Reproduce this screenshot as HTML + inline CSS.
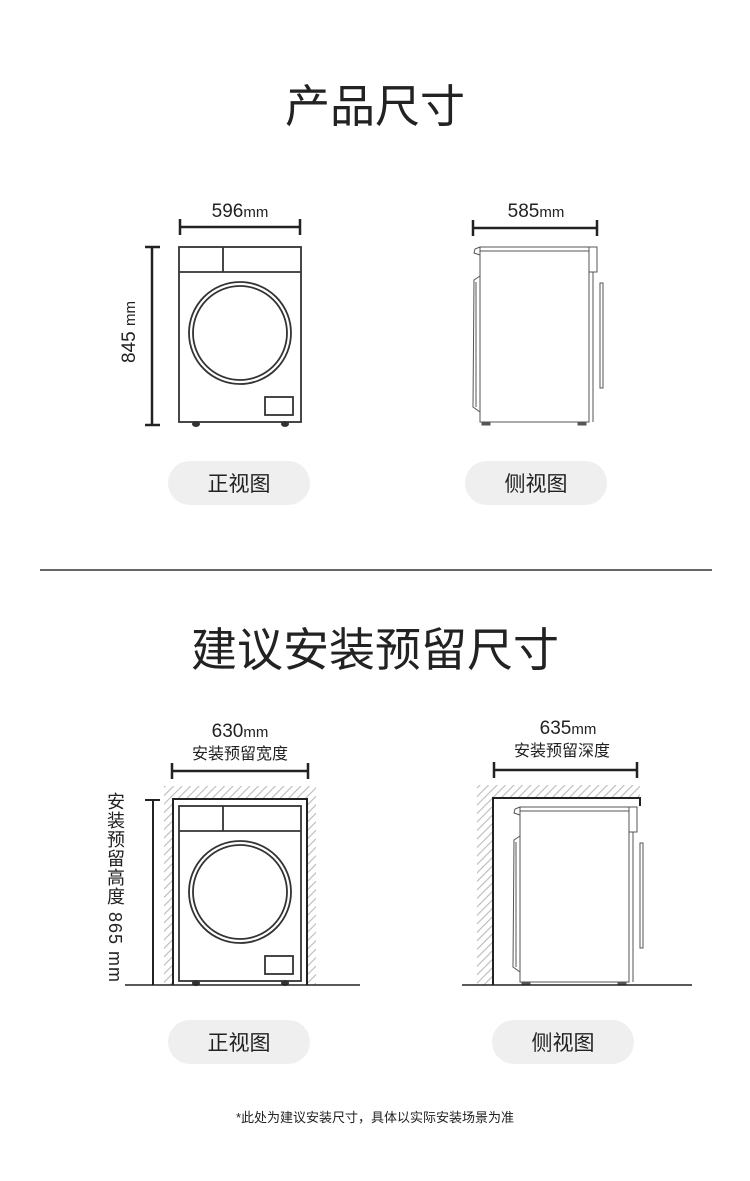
<!DOCTYPE html>
<html><head><meta charset="utf-8"><style>
html,body{margin:0;padding:0;background:#fff;}
body{width:750px;height:1176px;overflow:hidden;}
svg text{font-family:"Liberation Sans","Noto Sans CJK SC",sans-serif;fill:#222;}
</style></head><body>
<svg width="750" height="1176" viewBox="0 0 750 1176" xmlns="http://www.w3.org/2000/svg">
<defs>
<pattern id="h" width="6" height="6" patternUnits="userSpaceOnUse" patternTransform="rotate(45)">
<rect width="6" height="6" fill="#fff"/><line x1="0" y1="0" x2="0" y2="6" stroke="#bbb" stroke-width="2.2"/>
</pattern>
<g id="front">
<rect x="179" y="0" width="122" height="175" fill="#fff" stroke="#333" stroke-width="1.8"/>
<line x1="179" y1="25" x2="301" y2="25" stroke="#333" stroke-width="1.8"/>
<line x1="223" y1="0" x2="223" y2="25" stroke="#333" stroke-width="1.8"/>
<circle cx="240" cy="86" r="51" fill="none" stroke="#333" stroke-width="1.8"/>
<circle cx="240" cy="86" r="47" fill="none" stroke="#333" stroke-width="1.8"/>
<rect x="265" y="150" width="28" height="18" fill="none" stroke="#333" stroke-width="1.8"/>
<ellipse cx="196" cy="177" rx="4" ry="3" fill="#333"/>
<ellipse cx="285" cy="177" rx="4" ry="3" fill="#333"/>
</g>
<g id="side" fill="none" stroke="#555" stroke-width="1">
<rect x="480" y="0" width="109" height="175" fill="#fff"/>
<line x1="480" y1="4" x2="589" y2="4"/>
<path d="M480 0 L475 2 L474 6 L480 8"/>
<rect x="589" y="0" width="8" height="25"/>
<line x1="589" y1="25" x2="589" y2="175"/>
<line x1="593" y1="25" x2="593" y2="175"/>
<rect x="600" y="36" width="3" height="105"/>
<path d="M480 29 L474 33 L473 160 L480 165"/>
<line x1="476" y1="35" x2="476" y2="160"/>
<rect x="482" y="175" width="8" height="3" fill="#555"/>
<rect x="578" y="175" width="8" height="3" fill="#555"/>
</g>
</defs>

<text x="375" y="122" font-size="45" text-anchor="middle">产品尺寸</text>

<text x="240" y="217" font-size="19" text-anchor="middle">596<tspan font-size="15">mm</tspan></text>
<g stroke="#222" stroke-width="2.5"><line x1="180" y1="227" x2="300" y2="227"/><line x1="180" y1="219" x2="180" y2="235"/><line x1="300" y1="219" x2="300" y2="235"/>
<line x1="152" y1="247" x2="152" y2="425"/><line x1="145" y1="247" x2="160" y2="247"/><line x1="145" y1="425" x2="160" y2="425"/></g>
<text transform="translate(135,332) rotate(-90)" font-size="19" text-anchor="middle">845 <tspan font-size="15">mm</tspan></text>
<use href="#front" y="247"/>

<text x="536" y="217" font-size="19" text-anchor="middle">585<tspan font-size="15">mm</tspan></text>
<g stroke="#222" stroke-width="2.5"><line x1="473" y1="228" x2="597" y2="228"/><line x1="473" y1="220" x2="473" y2="236"/><line x1="597" y1="220" x2="597" y2="236"/></g>
<use href="#side" y="247"/>

<rect x="168" y="461" width="142" height="44" rx="22" fill="#efefef"/>
<text x="239" y="491" font-size="21" text-anchor="middle">正视图</text>
<rect x="465" y="461" width="142" height="44" rx="22" fill="#efefef"/>
<text x="536" y="491" font-size="21" text-anchor="middle">侧视图</text>

<line x1="40" y1="570" x2="712" y2="570" stroke="#333" stroke-width="1.5"/>

<text x="375" y="666" font-size="46" text-anchor="middle">建议安装预留尺寸</text>

<text x="240" y="737" font-size="19" text-anchor="middle">630<tspan font-size="15">mm</tspan></text>
<text x="240" y="759" font-size="16" text-anchor="middle">安装预留宽度</text>
<g stroke="#222" stroke-width="2.5"><line x1="172" y1="771" x2="308" y2="771"/><line x1="172" y1="763" x2="172" y2="779"/><line x1="308" y1="763" x2="308" y2="779"/></g>
<rect x="164" y="786" width="152" height="199" fill="url(#h)"/>
<rect x="173" y="799" width="134" height="186" fill="#fff"/>
<path d="M173 985 L173 799 L307 799 L307 985" fill="none" stroke="#222" stroke-width="2"/>
<use href="#front" y="806"/>
<g stroke="#222" stroke-width="2"><line x1="153" y1="800" x2="153" y2="985"/><line x1="145" y1="800" x2="160" y2="800"/></g>
<text x="115" y="792" font-size="18" style="writing-mode:vertical-rl;letter-spacing:1px" text-anchor="start">安装预留高度 865 mm</text>
<line x1="125" y1="985" x2="360" y2="985" stroke="#222" stroke-width="1.5"/>

<text x="568" y="734" font-size="19" text-anchor="middle">635<tspan font-size="15">mm</tspan></text>
<text x="562" y="756" font-size="16" text-anchor="middle">安装预留深度</text>
<g stroke="#222" stroke-width="2.5"><line x1="494" y1="770" x2="637" y2="770"/><line x1="494" y1="762" x2="494" y2="778"/><line x1="637" y1="762" x2="637" y2="778"/></g>
<rect x="477" y="785" width="163" height="200" fill="url(#h)"/>
<rect x="493" y="798" width="147" height="187" fill="#fff"/>
<path d="M493 985 L493 798 L640 798 L640 806" fill="none" stroke="#222" stroke-width="2"/>
<g transform="translate(40,0)"><use href="#side" y="807"/></g>
<line x1="462" y1="985" x2="692" y2="985" stroke="#222" stroke-width="1.5"/>

<rect x="168" y="1020" width="142" height="44" rx="22" fill="#efefef"/>
<text x="239" y="1050" font-size="21" text-anchor="middle">正视图</text>
<rect x="492" y="1020" width="142" height="44" rx="22" fill="#efefef"/>
<text x="563" y="1050" font-size="21" text-anchor="middle">侧视图</text>

<text x="375" y="1122" font-size="13" text-anchor="middle">*此处为建议安装尺寸，具体以实际安装场景为准</text>
</svg>
</body></html>
